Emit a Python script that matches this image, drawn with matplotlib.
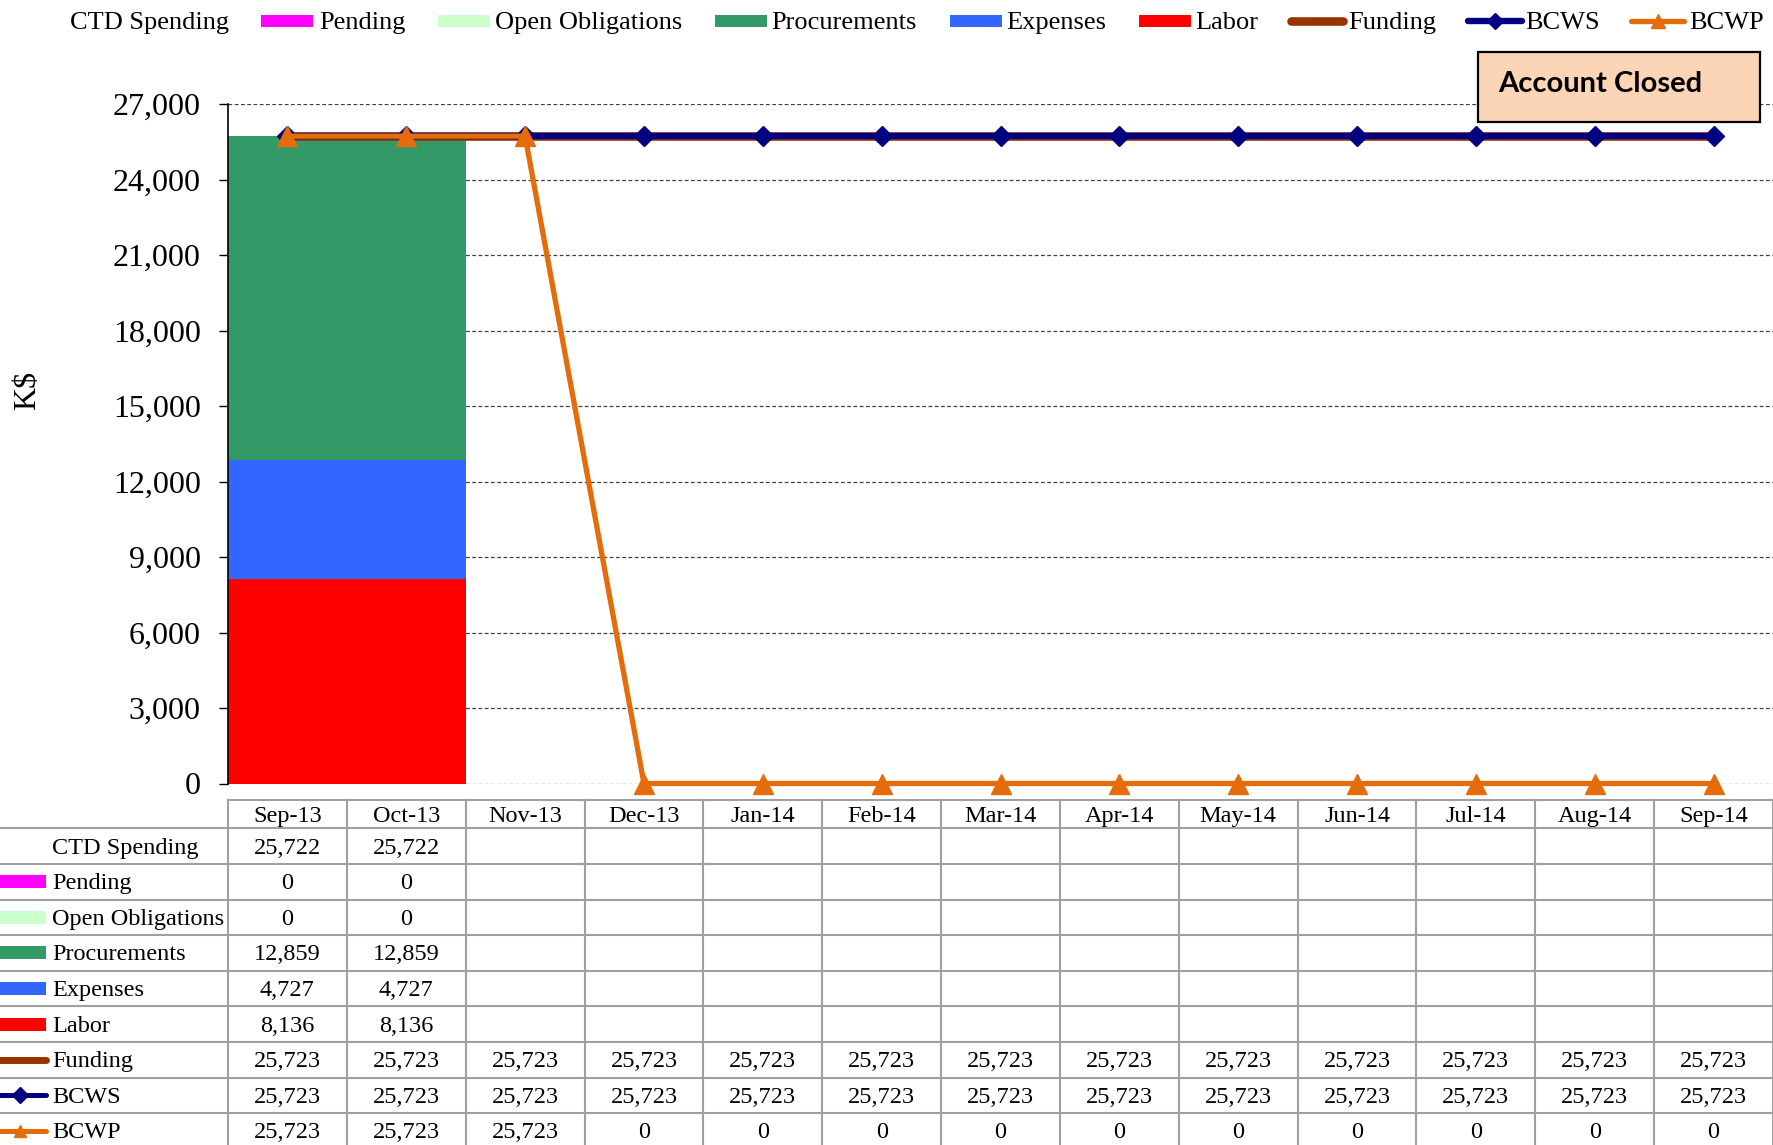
import numpy as np
import matplotlib
matplotlib.use('Agg')
import matplotlib.pyplot as plt
from matplotlib.patches import Rectangle
from matplotlib.lines import Line2D
from matplotlib.ticker import FuncFormatter, MultipleLocator

plt.rcParams['font.family'] = ['Liberation Serif', 'DejaVu Serif']

# ---------------- data ----------------
months = ['Sep-13', 'Oct-13', 'Nov-13', 'Dec-13', 'Jan-14', 'Feb-14', 'Mar-14',
          'Apr-14', 'May-14', 'Jun-14', 'Jul-14', 'Aug-14', 'Sep-14']
ctd_spending = [25722, 25722, None, None, None, None, None, None, None, None, None, None, None]
pending = [0, 0, None, None, None, None, None, None, None, None, None, None, None]
open_obligations = [0, 0, None, None, None, None, None, None, None, None, None, None, None]
procurements = [12859, 12859, None, None, None, None, None, None, None, None, None, None, None]
expenses = [4727, 4727, None, None, None, None, None, None, None, None, None, None, None]
labor = [8136, 8136, None, None, None, None, None, None, None, None, None, None, None]
funding = [25723, 25723, 25723, 25723, 25723, 25723, 25723, 25723, 25723, 25723, 25723, 25723, 25723]
bcws = [25723, 25723, 25723, 25723, 25723, 25723, 25723, 25723, 25723, 25723, 25723, 25723, 25723]
bcwp = [25723, 25723, 25723, 0, 0, 0, 0, 0, 0, 0, 0, 0, 0]
y_ticks = [0, 3000, 6000, 9000, 12000, 15000, 18000, 21000, 24000, 27000]

# ---------------- styles ----------------
C_PEND = '#FF00FF'
C_OPEN = '#CCFFCC'
C_PROC = '#339966'
C_EXP = '#3366FF'
C_LAB = '#FF0000'
C_FUND = '#993300'
C_BCWS = '#000080'
C_BCWP = '#E46C0A'
GRID_C = '#A0A0A0'

W, H = 1773, 1145
fig = plt.figure(figsize=(W / 100, H / 100), dpi=100)


def fx(x):
    return x / W


def fy(y):
    return 1 - y / H


ax = fig.add_axes([fx(228), fy(783.5), fx(W) - fx(228), fy(104) - fy(783.5)])

# stacked bars
idx = [i for i, v in enumerate(labor) if v is not None]
bottom = np.zeros(len(idx))
for vals, col in [(labor, C_LAB), (expenses, C_EXP), (procurements, C_PROC),
                  (open_obligations, C_OPEN), (pending, C_PEND)]:
    h = np.array([vals[i] for i in idx], dtype=float)
    ax.bar(idx, h, width=1.0, bottom=bottom, color=col, zorder=2, linewidth=0)
    bottom += h

x = np.arange(len(months))
ax.plot(x, funding, color=C_FUND, lw=6.2, zorder=3, solid_capstyle='butt', clip_on=False)
ax.plot(x, bcws, color=C_BCWS, lw=4.6, marker='D', ms=10.5, zorder=4,
        solid_capstyle='butt', clip_on=False)
ax.plot(x, bcwp, color=C_BCWP, lw=3.8, marker='^', ms=14, zorder=5,
        solid_capstyle='butt', clip_on=False)

ax.set_xlim(-0.5, len(months) - 0.5)
ax.set_ylim(y_ticks[0], y_ticks[-1])
ax.set_yticks(y_ticks)
ax.yaxis.set_major_formatter(FuncFormatter(lambda v, p: f'{v:,.0f}'))
ax.tick_params(axis='y', labelsize=23, length=6.5, width=1, pad=13, direction='out')
ax.set_xticks([])
for s in ['top', 'right', 'bottom']:
    ax.spines[s].set_visible(False)
ax.spines['left'].set_linewidth(1.2)
ax.set_axisbelow(True)
ax.yaxis.grid(True, color='#404040', lw=0.9, linestyle=(0, (3, 2)))

fig.text(fx(28), fy(390), 'K$', rotation=90, fontsize=23, ha='center', va='center')

# ---------------- top legend ----------------
ly = 23
leg_fs = 19
fig.text(fx(70), fy(ly), 'CTD Spending', fontsize=leg_fs, va='center', ha='left')
patch_items = [('Pending', C_PEND, 261, 319), ('Open Obligations', C_OPEN, 438, 495),
               ('Procurements', C_PROC, 715, 771), ('Expenses', C_EXP, 950, 1006),
               ('Labor', C_LAB, 1139, 1195)]
for name, col, kx, tx in patch_items:
    fig.add_artist(Rectangle((fx(kx), fy(ly + 4)), fx(kx + 52) - fx(kx), fy(ly - 8) - fy(ly + 4),
                             transform=fig.transFigure, fc=col, ec='none'))
    fig.text(fx(tx), fy(ly), name, fontsize=leg_fs, va='center', ha='left')

line_items = [('Funding', C_FUND, 1291, 1343, 1348, None, 6.2, 0),
              ('BCWS', C_BCWS, 1468, 1522, 1525, 'D', 4.6, 8),
              ('BCWP', C_BCWP, 1631, 1684, 1689, '^', 3.8, 10)]
for name, col, x0, x1, tx, mk, lw, ms in line_items:
    fig.add_artist(Line2D([fx(x0), fx(x1)], [fy(ly - 2), fy(ly - 2)], transform=fig.transFigure,
                          color=col, lw=lw, solid_capstyle='round'))
    if mk:
        fig.add_artist(Line2D([fx((x0 + x1) / 2)], [fy(ly - 2)], transform=fig.transFigure,
                              color=col, marker=mk, ms=ms, lw=0))
    fig.text(fx(tx), fy(ly), name, fontsize=leg_fs, va='center', ha='left')

# ---------------- data table ----------------
fig.canvas.draw()
to_fig = fig.transFigure.inverted()


def col_x(v):
    return to_fig.transform(ax.transData.transform((v, 0)))[0]


tab_top = 800
head_bot = 828.3
row_h = 35.6
tfs = 17.5
rows = [('CTD Spending', ctd_spending, None), ('Pending', pending, ('patch', C_PEND)),
        ('Open Obligations', open_obligations, ('patch', C_OPEN)),
        ('Procurements', procurements, ('patch', C_PROC)),
        ('Expenses', expenses, ('patch', C_EXP)), ('Labor', labor, ('patch', C_LAB)),
        ('Funding', funding, ('line', C_FUND, None)), ('BCWS', bcws, ('line', C_BCWS, 'D')),
        ('BCWP', bcwp, ('line', C_BCWP, '^'))]

# vertical lines
for k in range(len(months) + 1):
    xv = col_x(k - 0.5)
    fig.add_artist(Line2D([xv, xv], [fy(tab_top), 0], transform=fig.transFigure,
                          color=GRID_C, lw=1.5))
# horizontal lines
fig.add_artist(Line2D([col_x(-0.5), 1], [fy(tab_top), fy(tab_top)], transform=fig.transFigure,
                      color=GRID_C, lw=1.5))
for r in range(len(rows) + 1):
    yy = fy(head_bot + r * row_h)
    fig.add_artist(Line2D([0, 1], [yy, yy], transform=fig.transFigure, color=GRID_C, lw=1.5))

for i, m in enumerate(months):
    fig.text(col_x(i), fy((tab_top + head_bot) / 2 + 2), m, fontsize=tfs, ha='center', va='center')

for r, (name, vals, key) in enumerate(rows):
    yc = head_bot + (r + 0.5) * row_h
    fig.text(fx(52), fy(yc + 2), name, fontsize=tfs, ha='left', va='center')
    if key is not None:
        if key[0] == 'patch':
            fig.add_artist(Rectangle((0, fy(yc + 6.5)), fx(46), fy(yc - 6.5) - fy(yc + 6.5),
                                     transform=fig.transFigure, fc=key[1], ec='none'))
        else:
            lw = 5.0 if key[2] is None else 3.6
            fig.add_artist(Line2D([0, fx(46)], [fy(yc), fy(yc)], transform=fig.transFigure,
                                  color=key[1], lw=lw, solid_capstyle='round'))
            if key[2]:
                fig.add_artist(Line2D([fx(20)], [fy(yc)], transform=fig.transFigure,
                                      color=key[1], marker=key[2], ms=8.5, lw=0))
    for i, v in enumerate(vals):
        if v is not None:
            fig.text(col_x(i), fy(yc + 2), f'{v:,.0f}', fontsize=tfs, ha='center', va='center')

# ---------------- Account Closed box ----------------
fig.add_artist(Rectangle((fx(1478), fy(121.5)), fx(1760) - fx(1478), fy(52) - fy(121.5),
                         transform=fig.transFigure, fc='#FBD5B5', ec='black', lw=1.6, zorder=10))
fig.text(fx(1498), fy(84), 'Account Closed', fontfamily='Lato', fontweight='bold',
         fontsize=21, va='center', ha='left', zorder=11)

fig.savefig('out.png', dpi=100)
